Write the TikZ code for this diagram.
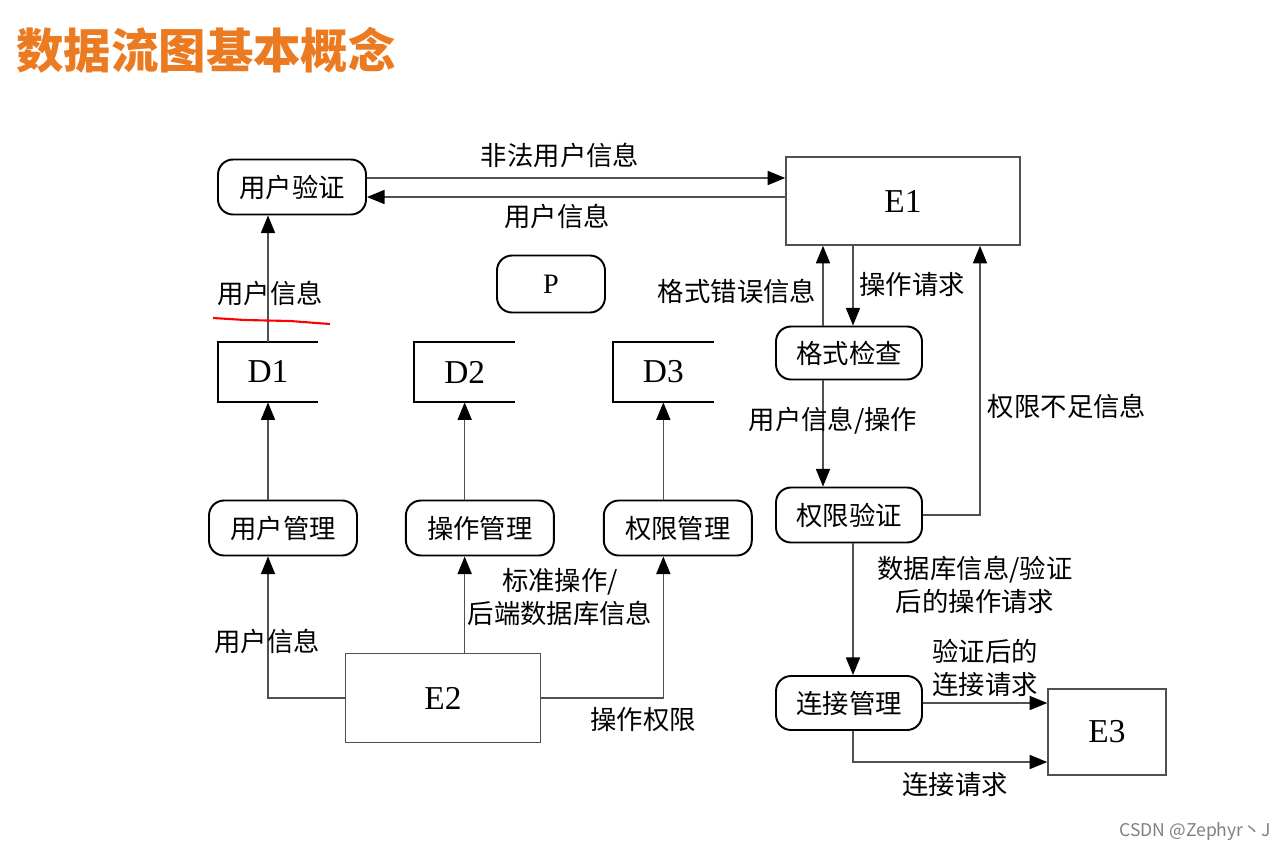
\documentclass[tikz,border=0pt]{standalone}
\usepackage{fontspec}
\setmainfont{Liberation Serif}
\newfontfamily\cjk{Noto Sans CJK SC}
\usetikzlibrary{arrows.meta, positioning}
\usepackage{xcolor}
\definecolor{titleorange}{RGB}{236,122,32}
\definecolor{linegray}{RGB}{80,80,80}

\begin{document}
\begin{tikzpicture}[
x=0.02cm, y=-0.02cm,
proc/.style={draw=black, line width=1.1pt, rounded corners=0.3cm,
minimum width=2.96cm, minimum height=1.1cm,
font=\cjk\fontsize{15}{18}\selectfont},
ent/.style={draw=linegray, line width=0.9pt, font=\fontsize{19}{22}\selectfont},
store/.style={minimum width=2cm, minimum height=1.2cm, font=\fontsize{19}{22}\selectfont},
lbl/.style={font=\cjk\fontsize{15}{19}\selectfont, align=center, inner sep=0pt},
arrow/.style={-{Triangle[length=10pt, width=8pt, color=black]}, draw=linegray, line width=0.8pt}
]
\fill[white] (0,0) rectangle (1271,849);
\useasboundingbox (0,0) rectangle (1271,849);

\node[lbl, font=\cjk\bfseries\fontsize{27}{30}\selectfont, text=titleorange, anchor=west] (title) at (16,50) {数据流图基本概念};

% processes and entities
\node[proc] (uver) at (292,187) {用户验证};
\node[ent, minimum width=4.68cm, minimum height=1.76cm] (e1) at (903,201) {E1};
\node[proc, minimum width=2.16cm, minimum height=1.14cm, font=\fontsize{16}{19}\selectfont] (p) at (551,284) {P};

\node[store] (d1) at (268,372) {D1};
\node[store, right=1.92cm of d1] (d2) {D2};
\node[store, right=1.96cm of d2] (d3) {D3};
\foreach \s in {d1,d2,d3}
  \draw[black, line width=1.1pt] (\s.north east) -- (\s.north west) -- (\s.south west) -- (\s.south east);

\node[proc] (umgr) at (283,528) {用户管理};
\node[proc, right=0.94cm of umgr] (omgr) {操作管理};
\node[proc, right=0.96cm of omgr] (pmgr) {权限管理};
\node[ent, minimum width=3.9cm, minimum height=1.78cm] (e2) at (443,698) {E2};

\node[proc, minimum width=2.92cm, minimum height=1.06cm] (fchk) at (849,353) {格式检查};
\node[proc, minimum width=2.92cm, minimum height=1.1cm] (pver) at (849,515) {权限验证};
\node[proc, minimum width=2.92cm, minimum height=1.08cm] (cmgr) at (849,703) {连接管理};
\node[ent, minimum width=2.36cm, minimum height=1.72cm] (e3) at (1107,732) {E3};

% helper rows and columns
\coordinate (rowA) at (0,178);
\coordinate (rowB) at (0,197);
\coordinate (rowE) at (0,762);
\coordinate (colA) at (823,0);
\coordinate (colB) at (853,0);
\coordinate (colC) at (980,0);

% flows
\draw[arrow] (uver.east |- rowA) -- (e1.west |- rowA);
\draw[arrow] (e1.west |- rowB) -- (uver.east |- rowB);
\draw[arrow] (d1.north) -- (d1.north |- uver.south);
\draw[arrow] (d1.south |- umgr.north) -- (d1.south);
\draw[arrow] (d2.south |- omgr.north) -- (d2.south);
\draw[arrow] (d3.south |- pmgr.north) -- (d3.south);
\draw[arrow] (e2.west) -| (d1.south |- umgr.south);
\draw[arrow] (e2.north -| d2.south) -- (d2.south |- omgr.south);
\draw[arrow] (e2.east) -| (d3.south |- pmgr.south);

\draw[arrow] (fchk.north -| colA) -- (e1.south -| colA);
\draw[arrow] (e1.south -| colB) -- (fchk.north -| colB);
\draw[arrow] (fchk.south -| colA) -- (pver.north -| colA);
\draw[arrow] (pver.east) -| (e1.south -| colC);
\draw[arrow] (pver.south -| colB) -- (cmgr.north -| colB);
\draw[arrow] (cmgr.east) -- (cmgr.east -| e3.west);
\draw[arrow] (cmgr.south -| colB) |- (e3.west |- rowE);

% flow labels
\node[lbl] (l-ill) at (560,155) {非法用户信息};
\node[lbl] (l-uinfo1) at (557,216) {用户信息};
\node[lbl] (l-uinfo2) at (270,293) {用户信息};
\draw[red, line width=1.2pt] (213,318) -- (245,320) -- (290,321) -- (330,324);
\node[lbl] (l-std) at (560,597) {标准操作/\\后端数据库信息};
\node[lbl] (l-uinfo3) at (267,641) {用户信息};
\node[lbl] (l-oper) at (643,720) {操作权限};
\node[lbl] (l-ferr) at (737,291) {格式错误信息};
\node[lbl] (l-oreq) at (912,285) {操作请求};
\node[lbl] (l-uop) at (833,421) {用户信息/操作};
\node[lbl] (l-perr) at (1067,406) {权限不足信息};
\node[lbl] (l-db) at (975,585) {数据库信息/验证\\后的操作请求};
\node[lbl] (l-vconn) at (985,668) {验证后的\\连接请求};
\node[lbl] (l-conn) at (955,784) {连接请求};

\node[font=\cjk\fontsize{10}{12}\selectfont, text=gray] (mark) at (1195,832) {CSDN @Zephyr丶J};
\end{tikzpicture}
\end{document}
